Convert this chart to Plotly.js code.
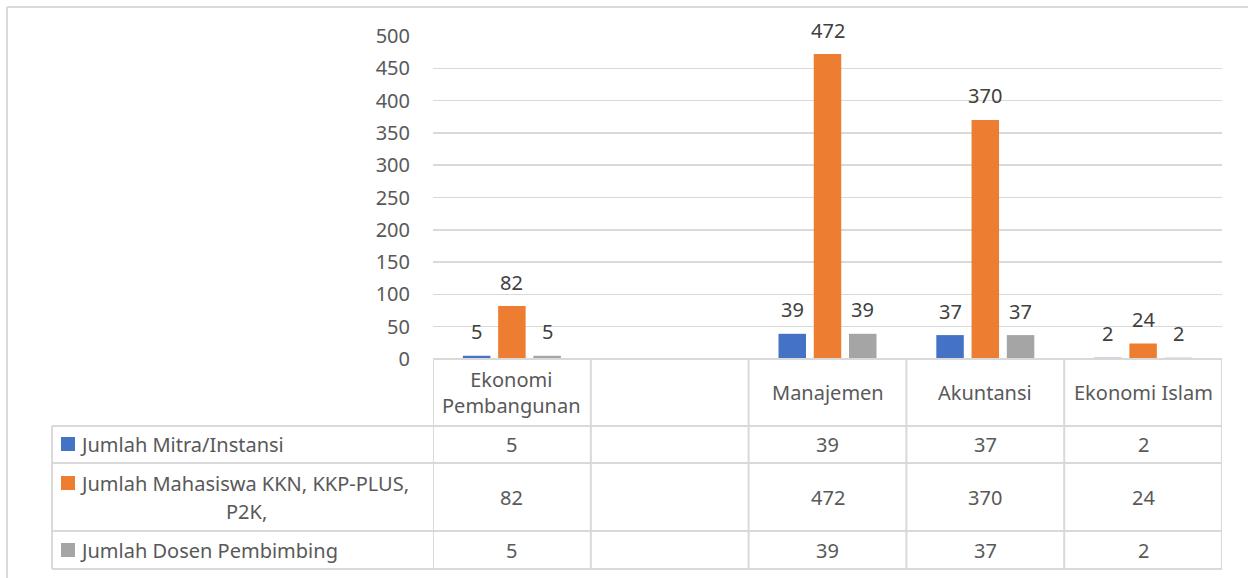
<!DOCTYPE html>
<html>
<head>
<meta charset="utf-8">
<script src="https://cdn.plot.ly/plotly-3.0.1.min.js"></script>
<style>html,body{margin:0;padding:0;background:#fff;}#chart{width:1248px;height:578px;}</style>
</head>
<body>
<div id="chart"></div>
<script>
// ---- data ----
const categories = ["Ekonomi Pembangunan", "", "Manajemen", "Akuntansi", "Ekonomi Islam"];
const headerLabels = ["Ekonomi<br>Pembangunan", "", "Manajemen", "Akuntansi", "Ekonomi Islam"];
const seriesNames = ["Jumlah Mitra/Instansi", "Jumlah Mahasiswa KKN, KKP-PLUS, P2K,", "Jumlah Dosen Pembimbing"];
const mitra = [5, null, 39, 37, 2];
const mahasiswa = [82, null, 472, 370, 24];
const dosen = [5, null, 39, 37, 2];
const yTickVals = [0, 50, 100, 150, 200, 250, 300, 350, 400, 450, 500];
const colors = ["#4472C4", "#ED7D31", "#A5A5A5"];

// ---- geometry ----
const W = 1248, H = 578;
const L = 433, R = 1222, T = 36, B = 359;
const pw = R - L, ph = B - T;
const px = x => (x - L) / pw;
const py = y => (B - y) / ph;
const FONT = "Noto Sans, sans-serif";
const TXT = "#595959";
const LINE = "#D9D9D9";
const bargap = 0.33, bargroupgap = 0.22;

const series = [mitra, mahasiswa, dosen];
const xIdx = categories.map((c, i) => i);

const traces = series.map((vals, s) => ({
  type: "bar",
  name: seriesNames[s],
  x: xIdx,
  y: vals,
  marker: {color: colors[s]},
  hoverinfo: "none",
  showlegend: false
}));

const annotations = [];
const shapes = [];
const catW = pw / categories.length;
const slot = catW * (1 - bargap) / 3;
const fnt = {family: FONT, size: 20, color: TXT};

// data labels
series.forEach((vals, s) => {
  vals.forEach((v, i) => {
    if (v === null) return;
    annotations.push({
      x: i, y: v, xref: "x", yref: "y", xanchor: "center", yanchor: "middle",
      text: String(v), showarrow: false,
      xshift: (s - 1) * slot, yshift: 24,
      font: {family: FONT, size: 20, color: "#404040"}
    });
  });
});

// table rows (pixel y)
const headerTop = 359, headerBot = 426;
const rowEdges = [426, 463, 531, 569];
const tableLeft = 52;

// header labels
headerLabels.forEach((h, i) => {
  if (!h) return;
  annotations.push({
    x: i, y: py((headerTop + headerBot) / 2), xref: "x", yref: "paper",
    xanchor: "center", yanchor: "middle",
    text: h, showarrow: false, align: "center", font: fnt
  });
});

// cell values
series.forEach((vals, s) => {
  const yc = (rowEdges[s] + rowEdges[s + 1]) / 2;
  vals.forEach((v, i) => {
    if (v === null) return;
    annotations.push({
      x: i, y: py(yc), xref: "x", yref: "paper", xanchor: "center", yanchor: "middle",
      text: String(v), showarrow: false, font: fnt
    });
  });
});

// legend keys + names
const keyCentersY = [444, 483, 550];
seriesNames.forEach((n, s) => {
  const cy = keyCentersY[s];
  shapes.push({type: "rect", xref: "paper", yref: "paper",
    x0: px(61), x1: px(75), y0: py(cy - 7), y1: py(cy + 7),
    fillcolor: colors[s], line: {width: 0}});
  if (s === 1) {
    const parts = n.split(" P2K,");
    annotations.push({x: px(78), y: py(cy), xref: "paper", yref: "paper", xanchor: "left", yanchor: "middle",
      text: parts[0], showarrow: false, font: fnt});
    annotations.push({x: px(246), y: py(cy + 28), xref: "paper", yref: "paper", xanchor: "center", yanchor: "middle",
      text: "P2K,", showarrow: false, font: fnt});
  } else {
    annotations.push({x: px(78), y: py(cy), xref: "paper", yref: "paper", xanchor: "left", yanchor: "middle",
      text: n, showarrow: false, font: fnt});
  }
});

// table lines
const lw = 2;
for (let k = 0; k <= categories.length; k++) {
  shapes.push({type: "line", xref: "x", yref: "paper",
    x0: k - 0.5, x1: k - 0.5, y0: py(headerTop), y1: py(rowEdges[3]),
    line: {color: LINE, width: lw}});
}
rowEdges.forEach(y => {
  shapes.push({type: "line", xref: "paper", yref: "paper",
    x0: px(tableLeft), x1: 1, y0: py(y), y1: py(y),
    line: {color: LINE, width: lw}});
});
shapes.push({type: "line", xref: "paper", yref: "paper",
  x0: px(tableLeft), x1: px(tableLeft), y0: py(rowEdges[0]), y1: py(rowEdges[3]),
  line: {color: LINE, width: lw}});
shapes.push({type: "line", xref: "paper", yref: "paper",
  x0: 0, x1: 1, y0: 0, y1: 0, line: {color: LINE, width: lw}});
// outer chart frame
shapes.push({type: "line", xref: "paper", yref: "paper",
  x0: px(7), x1: px(7), y0: py(7), y1: py(600), line: {color: LINE, width: 2}});
shapes.push({type: "line", xref: "paper", yref: "paper",
  x0: px(7), x1: px(1260), y0: py(7), y1: py(7), line: {color: LINE, width: 2}});

const layout = {
  width: W, height: H,
  margin: {l: L, r: W - R, t: T, b: H - B, pad: 0},
  paper_bgcolor: "#fff", plot_bgcolor: "#fff",
  barmode: "group", bargap: bargap, bargroupgap: bargroupgap,
  showlegend: false,
  xaxis: {range: [-0.5, categories.length - 0.5], showticklabels: false, showgrid: false,
    zeroline: false, showline: false, ticks: "", fixedrange: true},
  yaxis: {range: [0, 500], tickvals: yTickVals, showgrid: true, gridcolor: LINE, gridwidth: 1.5,
    zeroline: false, showline: false, ticks: "", ticklabelstandoff: 22,
    tickfont: fnt, fixedrange: true},
  annotations: annotations,
  shapes: shapes,
  font: {family: FONT, color: TXT}
};

Plotly.newPlot("chart", traces, layout, {displayModeBar: false, staticPlot: true});
</script>
</body>
</html>
